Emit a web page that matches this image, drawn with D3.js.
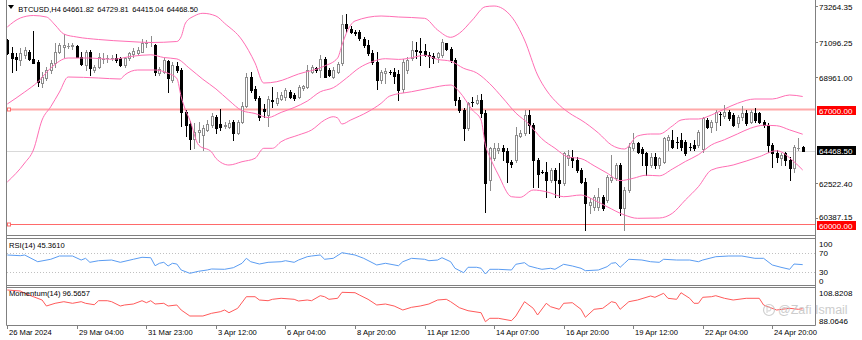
<!DOCTYPE html>
<html>
<head>
<meta charset="utf-8">
<script src="https://cdn.jsdelivr.net/npm/d3@7"></script>
<style>
  html, body { margin: 0; padding: 0; background: #ffffff; }
  svg { display: block; font-family: "Liberation Sans", Arial, sans-serif; }
</style>
</head>
<body>
<svg id="chart" width="862" height="340"></svg>
<script>
// ---- BTCUSD H4 candles ----
const symbol = "BTCUSD,H4";
const opens = [71196,70405,70180,69979,70283,70484,70022,69876,68562,68866,
69371,69779,70484,70788,70849,70849,70831,70180,69675,70484,
69371,69572,70022,70083,70083,70119,70083,69675,70083,70326,
70387,70484,70995,71056,70892,69207,69267,69937,68763,69614,
69401,66816,66086,65174,65599,65417,65721,66025,66512,66086,
65995,65934,66208,65539,66208,67181,68945,68215,67668,66999,
66634,67546,67364,67607,67759,68033,67850,67759,68276,68367,
69280,69493,69371,70070,69371,68976,69280,69779,72199,71895,
71682,71682,71287,70892,70405,69858,68763,69207,69267,69249,
69128,68215,69371,70083,70569,70545,70545,70283,70253,70162,
70283,70995,70630,69979,67546,66938,65824,67455,67382,67546,
66737,62680,64000,64505,64626,64444,63793,63896,65356,65521,
66634,66025,63896,63185,63185,62680,63288,62680,62479,64000,
64061,63896,63288,62576,61159,61056,61056,61664,61463,62680,
62783,63592,60958,62072,64608,64912,64547,64304,63592,64097,
63592,63793,65113,65113,65009,65113,65009,64705,64809,64809,
64547,66329,65922,66226,66694,66573,66834,66634,66129,66530,
66774,66226,66774,66737,66226,66025,64809,64304,64000,64304,
63896,63391,64644,64661.82];
const highs = [71257,70788,70423,70691,70752,70587,71762,69979,69267,69572,
69979,70995,70995,71543,70995,71032,70892,70484,70587,70587,
69675,70387,70387,70283,70283,70326,70180,70180,70484,70691,
70788,71238,71196,71439,70934,69572,70083,69979,69876,69876,
69493,66938,66269,66147,66208,66025,66329,66755,66634,66999,
66208,66329,66329,66329,67424,69188,69249,68398,67789,67303,
67789,68337,68033,68033,68276,68154,67972,68458,68458,69675,
69675,69572,70283,70180,69474,69572,69876,72717,72777,72047,
71804,71804,71397,71196,70587,70484,69371,69474,69371,69493,
69371,70022,70180,71153,71092,71299,70952,70484,70387,70484,
71238,71032,70788,70083,67747,67059,67443,67710,67850,67911,
66938,64705,64912,64912,64809,64608,63896,65922,65721,66938,
66938,66129,64000,63288,63793,63391,63391,63695,64401,64505,
64505,64097,63391,62783,61566,61767,62175,61767,62984,64200,
63695,63695,62272,64912,65521,65009,64705,64401,64304,64304,
64097,65314,65417,65721,65314,65521,65113,64912,65113,65721,
66530,66433,66329,66938,66834,67242,66938,66737,66634,67181,
66938,66938,67041,66834,66329,66129,64912,64505,64304,64401,
64097,64809,65216,64729.81];
const lows = [70344,69267,69371,69675,70083,69979,69779,68398,68355,68763,
69170,69572,70387,70180,70691,70630,70162,69675,69371,69067,
69267,69474,69779,69876,69979,69876,69614,69572,69979,70180,
70283,70466,70788,70831,69067,69067,69170,68051,68659,69267,
65964,65356,64565,64626,64991,64504,65660,65904,65539,65721,
65843,65843,65113,65478,66147,67120,68033,67546,66329,66512,
65964,67120,67242,67546,67546,67668,67546,67668,68154,68276,
69188,69267,68963,68927,69006,68866,69170,69675,71701,71603,
71500,71196,70788,70283,69736,68197,68562,68562,69128,68580,
67546,68051,69170,69979,70083,69675,70223,69572,69779,69876,
70180,70587,69876,67242,66816,65113,65721,67181,67303,66530,
60751,62072,63896,64304,63896,62576,63489,63793,65295,65417,
65521,62272,62272,63087,61664,62576,61664,61664,62375,63592,
63489,63185,62479,59638,60654,60855,60855,60855,61360,62576,
62680,60551,59638,61968,64505,64304,63592,62984,63489,63391,
63391,63695,64505,64608,64608,64505,64200,64505,64505,64705,
64401,65824,65618,65721,66025,66433,66329,65964,65922,66329,
66025,66129,66226,66129,65922,64401,63489,63793,63592,63592,
62680,63185,64505,64415.04];
const closes = [70405,70083,70040,70387,70587,70022,69815,68659,68963,69371,
69779,70484,70892,70892,70861,70873,70180,69718,70484,69474,
69572,70180,70040,70101,70101,69979,69675,70083,70387,70527,
70587,70995,71013,71074,69267,69414,69979,68866,69675,69371,
66816,66025,65174,65599,65721,65843,66086,66573,65843,65904,
66010,66147,65539,66208,67181,68945,68154,67668,66512,66877,
67607,67516,67668,67850,68154,67759,67668,68337,68398,69371,
69553,69371,70070,68976,69067,69371,69766,72199,71908,71701,
71652,71299,70892,70387,69858,68763,69267,69328,69249,69006,
68154,69858,69979,70587,70545,70466,70283,70253,70101,70387,
71074,70630,69979,67546,66938,65824,67345,67424,67546,66755,
62479,64608,64608,64608,64444,63793,63653,65417,65521,66634,
66025,63896,63045,63166,62680,63288,62680,62479,64304,64200,
63896,63288,62576,61262,61360,61664,61664,60958,62880,62880,
63592,60958,62072,64705,64912,64401,64304,63592,64097,63592,
64000,65216,65295,64705,64991,64705,64304,64687,64608,65618,
66433,65922,66226,66834,66676,66834,66433,66025,66530,66737,
66165,66834,66329,66226,66025,64809,64304,64097,64200,63896,
63391,64705,64657,64468.50];

// ---- Bollinger Bands (20, 2): [bar index, price] ----
const bandUpper = [[0,71987],[3,72534],[6,72686],[9,72595],[11,72108],[13,71561],[16,71378],
[21,71226],[28,71105],[33,71044],[39,71105],[40,71397],[41,72230],[43,72656],[45,72820],[48,72656],
[50,72212],[54,71196],[57,69797],[59,68580],[62,68659],[67,69128],[73,69614],[76,70101],[77,70892],
[78,71603],[80,72352],[86,72656],[90,72595],[96,72516],[99,71804],[102,71360],[104,71603],[107,72412],
[110,73221],[112,73264],[116,72613],[119,71196],[122,69067],[124,68154],[127,67242],[130,66634],
[132,66329],[136,65539],[139,64809],[142,64565],[145,65356],[148,65478],[150,65478],[153,65964],
[155,66329],[157,66390],[159,66390],[162,66634],[165,66999],[168,67345],[172,67607],[176,67607],
[180,67850],[183,67759]];
const bandMiddle = [[0,67303],[4,68033],[7,68641],[10,69493],[14,70101],[19,70101],[24,70022],
[29,70216],[33,70296],[36,70131],[39,70046],[42,69456],[45,68805],[48,68221],[51,67522],[54,66901],
[57,66725],[60,66481],[63,66792],[66,67090],[69,67479],[72,68045],[75,68294],[78,68872],[81,69505],
[84,69882],[87,70058],[90,70016],[93,70113],[96,70271],[99,70016],[102,69906],[105,69474],[108,69194],
[111,68538],[114,67668],[117,66755],[120,66086],[123,65186],[126,64614],[129,64079],[132,63981],
[135,63549],[138,63099],[141,62643],[144,62783],[147,62972],[150,62935],[153,63343],[156,63805],
[159,64219],[162,64815],[165,65131],[168,65484],[171,65831],[174,66007],[177,65983],[180,65727],
[183,65466]];
const bandLower = [[0,62558],[4,63714],[6,64504],[8,66329],[10,67138],[12,68033],[14,68945],
[21,68884],[26,68823],[27,69067],[30,69371],[34,69371],[37,69170],[39,68866],[40,67747],[41,66938],
[42,66329],[44,64809],[47,64383],[48,64000],[51,63592],[54,63793],[57,64000],[59,64608],[61,64608],
[63,65009],[67,65417],[70,65721],[73,66329],[75,66530],[76,66451],[77,66086],[79,66329],[83,66834],
[86,67345],[88,67789],[93,68051],[97,68258],[102,68458],[104,68051],[107,66938],[109,66329],
[110,64800],[111,64097],[113,62984],[116,61664],[118,61627],[121,62071],[124,61968],[128,61664],
[132,61767],[135,61463],[138,61056],[142,60551],[145,60350],[150,60368],[153,60654],[156,61463],
[159,62272],[162,63288],[167,63592],[173,64097],[177,64462],[181,63793],[183,63288]];

// ---- RSI(14): [bar index, value] ----
const rsi = [[0,66.3],[3,64.8],[4,66.3],[7,51.7],[10,57],[12,64.1],[15,64.1],[17,55.4],[18,59.1],
[19,50.4],[21,53.9],[24,55.4],[26,50.4],[29,57],[31,61.3],[33,60.4],[34,43],[35,48.3],[36,50.4],
[37,42.4],[38,48.3],[39,46.7],[40,33.7],[42,26.5],[44,30.9],[46,33.7],[47,35.9],[50,35.2],[52,38.7],
[54,48.3],[55,59.1],[56,51.7],[58,46.7],[60,50.4],[63,51.7],[64,53.9],[66,50.4],[67,55.4],[69,62.6],
[70,64.1],[72,66.3],[73,57],[75,59.1],[77,71.3],[80,66.3],[82,59.1],[85,44.6],[87,48.3],[90,43],
[91,51.7],[93,59.1],[96,57],[97,53.9],[99,55.4],[100,60.4],[102,51.7],[103,37.4],[105,27.8],
[106,39.6],[108,39.6],[109,37.4],[110,25],[111,35.2],[113,35.2],[116,33.7],[117,46.1],[119,49.6],
[120,42.4],[122,37.4],[123,35.2],[125,37.4],[126,35.2],[128,46.1],[130,42.4],[132,37.4],[133,32.2],
[136,33.7],[138,40.9],[139,48.3],[140,49.6],[141,39.6],[142,48.3],[143,57],[146,55.4],[148,51.7],
[150,50.4],[151,57],[154,55.4],[157,55.4],[159,51.7],[160,55.4],[163,62.6],[166,64.1],[169,64.1],
[172,59.1],[174,59.1],[176,44.6],[178,39.6],[180,35.2],[181,46.7],[183,45.361]];
const rsiLevels = [70, 30];
const rsiTicks = [100, 70, 30, 0];

// ---- Momentum(14): [bar index, value] ----
const momentum = [[0,108.8208],[3,108.16],[4,106.66],[6,104.43],[8,102.27],[9,98.34],[11,100.11],
[13,101.16],[15,100.11],[17,101.16],[18,100.11],[20,99.19],[21,101.81],[23,101.81],[24,101.16],
[26,98.34],[27,99],[29,99.65],[31,101.81],[32,100.5],[33,101.81],[34,99.65],[36,100.11],[37,98.34],
[39,99],[40,95.72],[42,91.79],[45,91.79],[47,93.56],[49,94.61],[50,95.72],[51,93.95],[53,96.84],
[55,104.43],[57,104.43],[58,102.27],[60,101.81],[61,102.73],[63,103.38],[66,102.73],[67,101.62],
[69,102.27],[70,101.81],[72,105.09],[73,104.43],[74,102.73],[76,103.38],[77,107.31],[80,107.05],
[81,105.55],[83,102.73],[85,99],[87,99.65],[89,98.34],[91,95.72],[93,97.49],[95,98.34],[97,99.65],
[99,102.27],[101,102.73],[102,101.16],[104,97.23],[106,95.26],[109,93.95],[110,88.0646],[111,90.29],
[113,90.29],[116,88.72],[117,91.79],[119,101.16],[121,96.84],[122,92.45],[124,100.11],[125,97.88],
[127,96.18],[128,100.11],[130,100.5],[132,96.18],[133,90.94],[135,96.18],[137,96.84],[138,99],
[139,101.16],[140,100.5],[141,96.18],[143,101.16],[145,102.27],[148,104.89],[149,104.04],[151,106.66],
[152,103.38],[154,102.73],[155,107.05],[157,103.38],[158,100.11],[159,100.11],[160,104.04],
[162,104.43],[163,105.09],[165,103.38],[167,102.27],[170,103.38],[173,103.38],[174,99],[177,95.72],
[180,96.84],[182,96.18],[183,96.5657]];
const momTicks = [108.8208, 88.0646];

// ---- axes ----
const priceTicks = [73264.35, 71096.25, 68961.00, 62522.40, 60387.15];
const levelLines = [67000, 60000];
const timeLabels = ["26 Mar 2024","29 Mar 04:00","31 Mar 23:00","3 Apr 12:00","6 Apr 04:00",
  "8 Apr 20:00","11 Apr 12:00","14 Apr 07:00","16 Apr 20:00","19 Apr 12:00","22 Apr 04:00","24 Apr 20:00"];
const barsPerTimeLabel = 16;

// ---- layout ----
const svg = d3.select("#chart");
const L = 7, R = 815;
const main = {top: 0, bottom: 235};
const rsiPane = {top: 238, bottom: 285};
const momPane = {top: 287, bottom: 325};
const gray = "#808080";
const bandColor = "#ff6eb4";
const bullStroke = "#8c8c8c";
const fmt2 = d3.format(".2f");

const x = d3.scaleLinear().domain([0, closes.length - 1]).range([7.3, 802.7]);
const y = d3.scaleLinear().domain([60387.15, 73264.35]).range([217.7, 6]);
const yRsi = d3.scaleLinear().domain([30, 70]).range([271.7, 253.3]);
const yMom = d3.scaleLinear().domain([88.0646, 108.8208]).range([321.7, 290]);
const px = i => Math.round(x(i));

const defs = svg.append("defs");
function clip(id, top, bottom) {
  defs.append("clipPath").attr("id", id).append("rect")
    .attr("x", L).attr("y", top).attr("width", R - L).attr("height", bottom - top);
}
clip("clipMain", main.top, main.bottom);
clip("clipRsi", rsiPane.top, rsiPane.bottom);
clip("clipMom", momPane.top, momPane.bottom);

// ---- main pane ----
const gMain = svg.append("g").attr("clip-path", "url(#clipMain)");
const last = closes[closes.length - 1];

// current bid line
gMain.append("line").attr("x1", L).attr("x2", R)
  .attr("y1", Math.round(y(last)) + 0.5).attr("y2", Math.round(y(last)) + 0.5)
  .attr("stroke", "#d9d9d9").attr("stroke-width", 1);

// horizontal price levels
levelLines.forEach((lv, k) => {
  const yy = Math.round(y(lv)) + 0.5;
  gMain.append("line").attr("x1", L).attr("x2", R).attr("y1", yy).attr("y2", yy)
    .attr("stroke", k === 0 ? "#ffa8a8" : "#ff6a6a").attr("stroke-width", k === 0 ? 2 : 1);
  gMain.append("rect").attr("x", L + 0.5).attr("y", yy - 1.5).attr("width", 3).attr("height", 3)
    .attr("fill", "#fff").attr("stroke", "#ff6a6a").attr("stroke-width", 1);
});

// candles
const bars = d3.range(closes.length).map(i => ({i, o: opens[i], h: highs[i], l: lows[i], c: closes[i]}));
const gC = gMain.append("g");
bars.forEach(d => {
  const cx = px(d.i) + 0.5;
  const bull = d.c >= d.o;
  const col = bull ? bullStroke : "#000";
  gC.append("line").attr("x1", cx).attr("x2", cx)
    .attr("y1", Math.round(y(d.h))).attr("y2", Math.round(y(d.l)) + 1)
    .attr("stroke", col).attr("stroke-width", 1);
  const top = Math.round(y(Math.max(d.o, d.c)));
  const bot = Math.round(y(Math.min(d.o, d.c)));
  const left = px(d.i) - 1;
  if (bot - top < 1) {
    gC.append("line").attr("x1", left).attr("x2", left + 3).attr("y1", top + 0.5).attr("y2", top + 0.5)
      .attr("stroke", col).attr("stroke-width", 1);
  } else if (bull) {
    gC.append("rect").attr("x", left + 0.5).attr("y", top + 0.5).attr("width", 2).attr("height", bot - top)
      .attr("fill", "#fff").attr("stroke", col).attr("stroke-width", 1);
  } else {
    gC.append("rect").attr("x", left).attr("y", top).attr("width", 3).attr("height", bot - top + 1)
      .attr("fill", "#000");
  }
});

// Bollinger bands
const bandLine = d3.line().x(d => x(d[0])).y(d => y(d[1])).curve(d3.curveMonotoneX);
[bandUpper, bandMiddle, bandLower].forEach(b => {
  gMain.append("path").attr("d", bandLine(b)).attr("fill", "none")
    .attr("stroke", bandColor).attr("stroke-width", 1);
});

// header
svg.append("path").attr("d", "M8,5 L14,5 L11,9 Z").attr("fill", "#000");
const headerVals = [symbol, fmt2(opens[opens.length - 1]), fmt2(highs[highs.length - 1]),
  fmt2(lows[lows.length - 1]), fmt2(last)];
const headerX = [18.3, 62.7, 97.3, 132.3, 166.7];
headerVals.forEach((t, k) => {
  svg.append("text").attr("x", headerX[k]).attr("y", 11.7).attr("font-size", 7.5)
    .attr("fill", "#000").text(t);
});

// ---- RSI pane ----
const gR = svg.append("g").attr("clip-path", "url(#clipRsi)");
rsiLevels.forEach(lv => {
  gR.append("line").attr("x1", L).attr("x2", R)
    .attr("y1", Math.round(yRsi(lv)) + 0.5).attr("y2", Math.round(yRsi(lv)) + 0.5)
    .attr("stroke", "#c0c0c0").attr("stroke-dasharray", "1,2");
});
gR.append("path").attr("d", d3.line().x(d => x(d[0])).y(d => yRsi(d[1]))(rsi))
  .attr("fill", "none").attr("stroke", "#5a9cf2").attr("stroke-width", 1);
svg.append("text").attr("x", 9).attr("y", 248).attr("font-size", 7.6).attr("fill", "#000")
  .text("RSI(14) " + d3.format(".4f")(rsi[rsi.length - 1][1]));

// ---- Momentum pane ----
const gM = svg.append("g").attr("clip-path", "url(#clipMom)");
gM.append("path").attr("d", d3.line().x(d => x(d[0])).y(d => yMom(d[1]))(momentum))
  .attr("fill", "none").attr("stroke", "#ff5a5a").attr("stroke-width", 1);
svg.append("text").attr("x", 9).attr("y", 296).attr("font-size", 7.6).attr("fill", "#000")
  .text("Momentum(14) " + d3.format(".4f")(momentum[momentum.length - 1][1]));

// ---- frames ----
const frame = svg.append("g").attr("stroke", gray).attr("stroke-width", 1).attr("fill", "none");
frame.append("line").attr("x1", L - 0.5).attr("x2", L - 0.5).attr("y1", 0).attr("y2", momPane.bottom + 0.5);
frame.append("line").attr("x1", R + 0.5).attr("x2", R + 0.5).attr("y1", 0).attr("y2", momPane.bottom + 0.5);
[main.bottom, rsiPane.top, rsiPane.bottom, momPane.top, momPane.bottom].forEach(v => {
  frame.append("line").attr("x1", L - 0.5).attr("x2", R + 0.5).attr("y1", v + 0.5).attr("y2", v + 0.5);
});

// ---- price axis ----
const axR = svg.append("g");
const tags = levelLines.map(lv => ({p: lv, fill: "#ff0000", top: Math.round(y(lv) + 1.5 - 4.5)}))
  .concat([{p: last, fill: "#000000", top: Math.round(y(last) - 4.5)}]);
priceTicks.forEach(p => {
  const yy = Math.round(y(p)) + 0.5;
  let base = yy + 3;
  tags.forEach(t => { if (base > t.top - 1 && base < t.top + 12) base = t.top - 1.5; });
  axR.append("line").attr("x1", R).attr("x2", R + 3).attr("y1", yy).attr("y2", yy).attr("stroke", gray);
  axR.append("text").attr("x", 819).attr("y", base).attr("font-size", 8).attr("fill", "#000").text(fmt2(p));
});
tags.forEach(t => {
  axR.append("rect").attr("x", 817).attr("y", t.top).attr("width", 39).attr("height", 9).attr("fill", t.fill);
  axR.append("text").attr("x", 819).attr("y", t.top + 7.5).attr("font-size", 8)
    .attr("fill", "#fff").text(fmt2(t.p));
});

// RSI / Momentum axis labels
rsiTicks.forEach(t => {
  const yy = Math.min(Math.max(yRsi(t), rsiPane.top + 6), rsiPane.bottom - 4);
  axR.append("text").attr("x", 819).attr("y", yy + 3).attr("font-size", 8).attr("fill", "#000").text(t);
});
momTicks.forEach((t, k) => {
  const base = k === 0 ? yMom(t) + 5.7 : 324;
  axR.append("text").attr("x", 819).attr("y", base).attr("font-size", 8).attr("fill", "#000").text(d3.format(".4f")(t));
});

// ---- time axis ----
const axB = svg.append("g");
timeLabels.forEach((t, k) => {
  const xi = px(k * barsPerTimeLabel) + 0.5;
  axB.append("line").attr("x1", xi).attr("x2", xi).attr("y1", momPane.bottom).attr("y2", momPane.bottom + 4)
    .attr("stroke", gray);
  axB.append("text").attr("x", xi + 1.5).attr("y", 334.5).attr("font-size", 7.6).attr("fill", "#000").text(t);
});

// ---- watermark ----
const wm = svg.append("g").attr("opacity", 0.85);
wm.append("circle").attr("cx", 769).attr("cy", 310).attr("r", 5.5).attr("fill", "none")
  .attr("stroke", "#c8c8c8").attr("stroke-width", 1.2);
wm.append("path").attr("d", "M767,313 L767,307 Q771,306 771,309 Q771,311.5 767.5,311")
  .attr("fill", "none").attr("stroke", "#c8c8c8").attr("stroke-width", 1);
wm.append("text").attr("x", 778).attr("y", 314).attr("font-size", 12.5).attr("fill", "#c4c4c4")
  .text("@Zafi Ismail");
</script>
</body>
</html>
